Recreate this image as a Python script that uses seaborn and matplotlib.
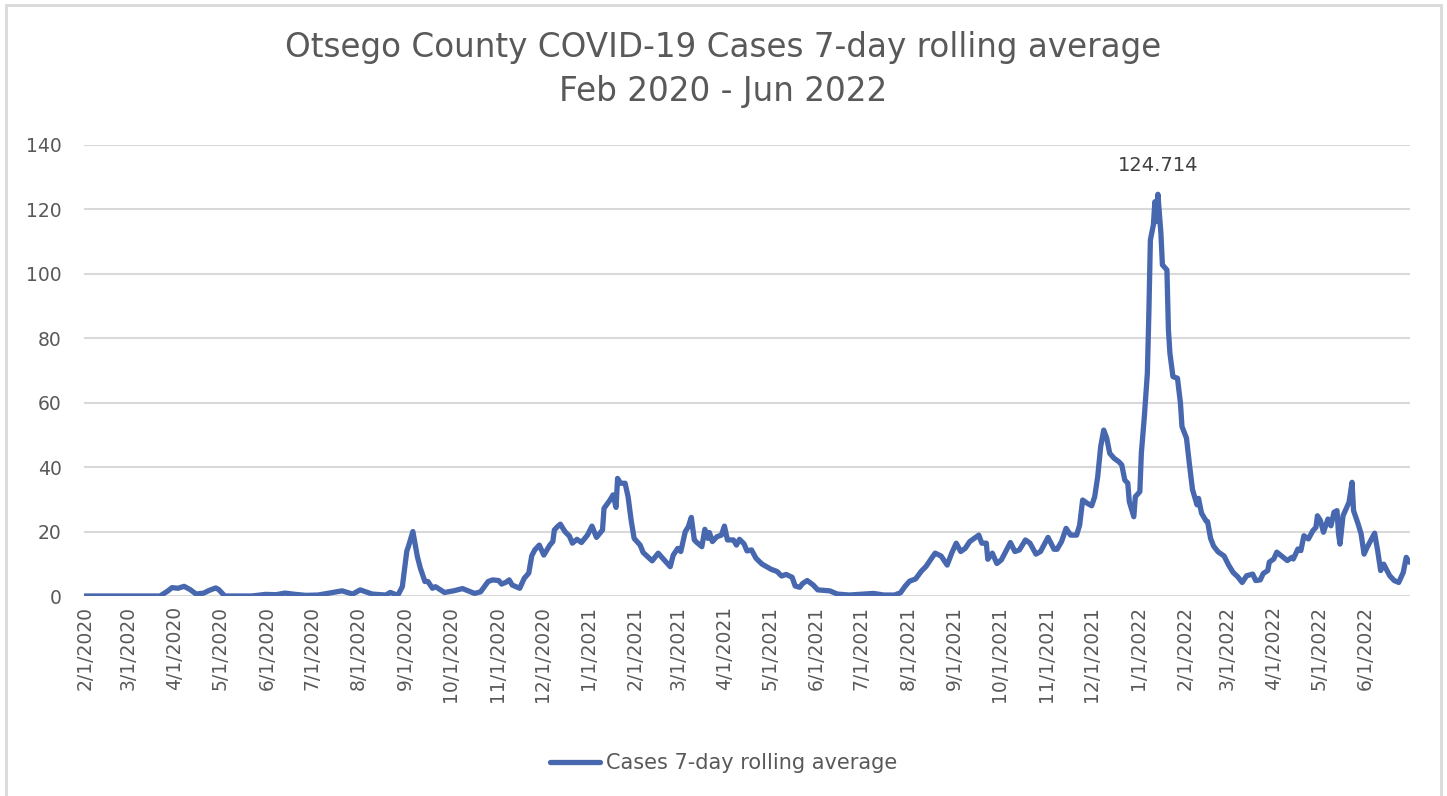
import matplotlib
matplotlib.use("Agg")
import matplotlib.pyplot as plt
import matplotlib.dates as mdates
from matplotlib.patches import Rectangle
import numpy as np
import pandas as pd
import seaborn as sns

# Otsego County COVID-19 cases, 7-day rolling average
start_date = "2020-02-01"
day_offset = [
    0, 50, 55, 58, 62, 66, 70, 74, 79, 83, 87, 89, 93, 111, 120, 127, 133, 140, 147, 155,
    171, 178, 183, 191, 200, 203, 208, 211, 214, 215, 218, 221, 223, 226, 228, 231, 233,
    239, 245, 251, 259, 263, 268, 271, 275, 277, 280, 282, 284, 289, 292, 295, 297, 299,
    302, 305, 309, 311, 312, 314, 316, 319, 322, 324, 327, 330, 334, 337, 340, 344, 345,
    349, 351, 353, 354, 356, 359, 361, 363, 365, 369, 371, 374, 377, 381, 384, 389, 391,
    394, 396, 399, 401, 403, 405, 406, 410, 412, 414, 415, 417, 420, 423, 425, 427, 431,
    433, 435, 438, 440, 443, 446, 450, 453, 456, 460, 463, 466, 470, 472, 475, 477, 480,
    484, 487, 495, 500, 508, 517, 524, 531, 538, 542, 545, 548, 552, 556, 559, 562, 565,
    569, 573, 576, 579, 582, 585, 588, 591, 594, 596, 599, 600, 603, 606, 609, 613, 615,
    618, 621, 625, 628, 632, 635, 638, 640, 644, 646, 649, 652, 655, 659, 661, 663, 666,
    669, 671, 673, 675, 677, 679, 681, 684, 687, 689, 691, 693, 694, 697, 698, 701, 702,
    704, 706, 707, 708, 710, 711, 712, 713, 715, 716, 719, 720, 721, 723, 726, 728, 729,
    732, 734, 736, 739, 740, 742, 745, 746, 748, 750, 753, 757, 760, 763, 766, 769, 772,
    776, 778, 781, 783, 786, 787, 790, 792, 795, 799, 802, 803, 806, 808, 810, 813, 816,
    818, 819, 821, 823, 826, 828, 830, 832, 833, 834, 836, 838, 840, 842, 843, 846, 848,
    850, 852, 855, 857, 859, 861, 863, 867, 870, 873, 876, 878, 880,
]
cases_avg = [
    0, 0, 1.5, 2.6, 2.4, 3.0, 2.0, 0.6, 0.9, 1.8, 2.5, 2.0, 0, 0, 0.5, 0.4, 0.9, 0.5, 0.2, 0.3,
    1.6, 0.6, 1.9, 0.6, 0.3, 1.1, 0.2, 2.9, 14.0, 15.3, 20.0, 12.2, 8.6, 4.5, 4.5, 2.4, 2.9,
    1.1, 1.6, 2.3, 0.8, 1.3, 4.5, 5.0, 4.8, 3.7, 4.3, 5.0, 3.4, 2.4, 5.5, 7.1, 12.5, 14.3,
    15.8, 12.7, 15.8, 16.9, 20.5, 21.5, 22.3, 20.0, 18.6, 16.4, 17.6, 16.6, 18.9, 21.7, 18.2, 20.5, 27.2,
    29.8, 31.4, 27.5, 36.5, 35.0, 35.0, 30.8, 23.6, 17.9, 15.8, 13.5, 12.2, 10.9, 13.3, 11.7, 9.1, 12.7,
    14.8, 13.8, 20.0, 21.5, 24.4, 17.4, 16.9, 15.3, 20.7, 17.9, 19.7, 16.9, 18.4, 18.9, 21.7, 17.4, 17.4,
    15.8, 17.6, 16.2, 14.0, 14.3, 11.7, 9.9, 9.1, 8.3, 7.6, 6.2, 6.7, 5.8, 3.1, 2.7, 3.9, 4.8,
    3.4, 1.9, 1.6, 0.6, 0.3, 0.6, 0.8, 0.3, 0.3, 1.0, 3.0, 4.6, 5.3, 7.8, 9.2, 11.3, 13.3,
    12.4, 9.6, 13.3, 16.4, 13.8, 14.8, 16.9, 17.9, 18.9, 16.4, 16.4, 11.4, 13.3, 10.1, 11.2, 14.8, 16.6,
    13.8, 14.3, 17.4, 16.4, 13.0, 13.8, 16.4, 18.2, 14.5, 14.5, 16.9, 21.0, 18.9, 18.9, 22.0, 29.8, 28.8,
    28.0, 30.8, 37.0, 46.4, 51.5, 49.0, 44.3, 42.7, 41.7, 40.7, 36.0, 35.0, 29.3, 24.6, 30.8, 32.4, 44.3,
    55.7, 69.1, 87.8, 110.5, 115.2, 122.4, 116.2, 124.714, 112.6, 102.8, 101.2, 82.6, 75.3, 68.1, 67.6, 59.8, 52.6,
    49.0, 40.7, 33.0, 28.3, 30.3, 25.7, 23.3, 23.1, 17.9, 15.5, 13.7, 12.4, 9.6, 7.3, 6.0, 4.2, 6.3,
    6.8, 4.8, 5.0, 7.0, 7.9, 10.5, 11.5, 13.6, 12.5, 11.0, 12.0, 11.5, 14.6, 14.1, 18.7, 17.7, 20.3,
    21.3, 24.9, 23.4, 19.8, 23.9, 21.8, 26.0, 26.5, 19.3, 16.1, 24.9, 27.0, 29.1, 35.3, 26.5, 22.4, 19.3,
    13.0, 15.1, 17.7, 19.5, 14.1, 7.9, 9.9, 6.3, 4.8, 4.2, 7.3, 12.0, 10.5,
]
y_ticks = [0, 20, 40, 60, 80, 100, 120, 140]

df = pd.DataFrame({
    "date": pd.Timestamp(start_date) + pd.to_timedelta(day_offset, unit="D"),
    "Cases 7-day rolling average": cases_avg,
})

sns.set_theme(style="white")
plt.rcParams["font.family"] = ["DejaVu Sans"]

text_color = "#595959"
line_color = "#4767AF"
grid_color = "#D9D9D9"

fig = plt.figure(figsize=(14.47, 7.96), dpi=100)
ax = fig.add_axes([84 / 1447, 1 - 596 / 796, (1410 - 84) / 1447, (596 - 145) / 796])

sns.lineplot(data=df, x="date", y="Cases 7-day rolling average", ax=ax,
             color=line_color, linewidth=3.8, label="Cases 7-day rolling average",
             legend=False, solid_capstyle="round", solid_joinstyle="round", zorder=3)

first = pd.Timestamp(start_date)
ax.set_xlim(first - pd.Timedelta(hours=12), df["date"].iloc[-1] + pd.Timedelta(hours=12))
ax.set_ylim(0, 140)
ax.set_yticks(y_ticks)
ax.yaxis.grid(True, color=grid_color, linewidth=1.5)
ax.xaxis.grid(False)
for side in ["top", "right", "left", "bottom"]:
    ax.spines[side].set_visible(False)

ax.xaxis.set_major_locator(mdates.MonthLocator(bymonthday=1))
ax.xaxis.set_major_formatter(
    matplotlib.ticker.FuncFormatter(
        lambda v, _: (lambda d: f"{d.month}/{d.day}/{d.year}")(mdates.num2date(v))
    )
)
ax.tick_params(axis="x", length=0, pad=7, labelsize=13.5, labelcolor=text_color, labelrotation=90)
ax.tick_params(axis="y", length=0, pad=16, labelsize=13.5, labelcolor=text_color)
ax.set_xlabel("")
ax.set_ylabel("")

# Peak label
peak_idx = int(np.argmax(cases_avg))
ax.annotate(f"{cases_avg[peak_idx]:g}", xy=(df["date"].iloc[peak_idx], cases_avg[peak_idx]),
            xytext=(0, 14), textcoords="offset points", ha="center", va="bottom",
            fontsize=14, color="#404040")

fig.text(0.5, 1 - 48 / 796, "Otsego County COVID-19 Cases 7-day rolling average",
         ha="center", va="center", fontsize=23.5, color=text_color)
fig.text(0.5, 1 - 92 / 796, "Feb 2020 - Jun 2022",
         ha="center", va="center", fontsize=23.5, color=text_color)

handles, labels = ax.get_legend_handles_labels()
fig.legend(handles, labels, loc="center", bbox_to_anchor=(0.5, 1 - 763 / 796),
           frameon=False, fontsize=15, labelcolor=text_color, handlelength=2.4,
           handletextpad=0.3)

fig.patches.append(Rectangle((6 / 1447, -0.01), (1441 - 6) / 1447, 1 - 5 / 796 + 0.01,
                             transform=fig.transFigure, fill=False,
                             edgecolor=grid_color, linewidth=2))

fig.savefig("out.png", dpi=100)
